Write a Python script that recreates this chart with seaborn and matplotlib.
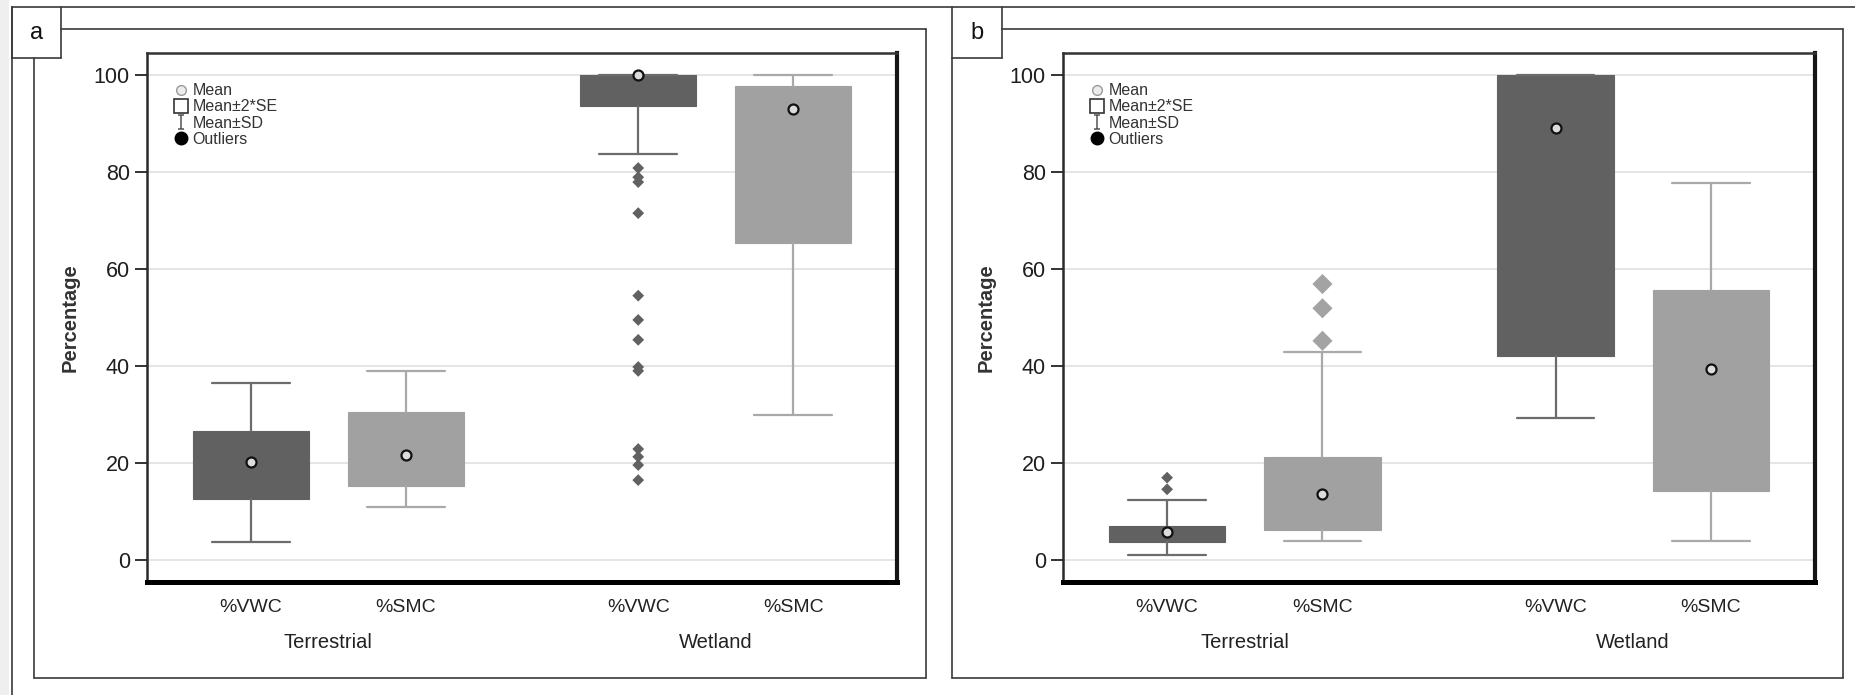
import matplotlib
matplotlib.use("Agg")
import matplotlib.pyplot as plt
import matplotlib.font_manager as fm
from matplotlib.lines import Line2D
from matplotlib.patches import Rectangle
from matplotlib.path import Path
import matplotlib.transforms as mtransforms
import seaborn as sns
import pandas as pd

# categories
groups = ["Terrestrial", "Terrestrial", "Wetland", "Wetland"]
variables = ["%VWC", "%SMC", "%VWC", "%SMC"]

# panel a: mean, mean +/- 2*SE (box), mean +/- SD (whiskers), outliers
a_mean = [20.3, 21.6, 100.0, 92.9]
a_se_lo = [12.6, 15.2, 93.5, 65.3]
a_se_hi = [26.6, 30.5, 100.0, 97.7]
a_sd_lo = [3.8, 11.0, 83.7, 30.0]
a_sd_hi = [36.6, 39.0, 100.0, 100.0]
a_out = [[], [], [80.8, 78.9, 77.9, 71.5, 54.5, 49.5, 45.4, 39.8, 39.0, 22.9, 21.3, 19.6, 16.5], []]

# panel b
b_mean = [5.8, 13.7, 89.0, 39.3]
b_se_lo = [3.8, 6.2, 42.1, 14.2]
b_se_hi = [7.0, 21.3, 100.0, 55.7]
b_sd_lo = [1.1, 3.9, 29.2, 3.9]
b_sd_hi = [12.4, 42.9, 100.0, 77.7]
b_out = [[17.0, 14.6], [56.9, 51.9, 45.2], [], []]

yticks = [0, 20, 40, 60, 80, 100]
legend_labels = ["Mean", "Mean\u00b12*SE", "Mean\u00b1SD", "Outliers"]

box_col = {"%VWC": "#616161", "%SMC": "#a1a1a1"}
whisk_col = {"%VWC": "#6c6c6c", "%SMC": "#a9a9a9"}

sns.set_theme(style="white")
plt.rcParams["font.family"] = ["Liberation Sans", "DejaVu Sans"]
names = {f.name for f in fm.fontManager.ttflist}
legend_font = ["Liberation Sans Narrow", "Liberation Sans"] if "Liberation Sans Narrow" in names else ["Liberation Sans"]

W, H = 1856, 695
fig = plt.figure(figsize=(W / 100, H / 100), dpi=100)

# positions from the group layout (half a slot gap between groups)
group_names = list(dict.fromkeys(groups))
positions = []
offset = 0.0
for g in group_names:
    n = groups.count(g)
    positions += [offset + k for k in range(n)]
    offset += n + 0.5


def fx(px):
    return px / W


def fy(py):
    return 1 - py / H


def fline(x0, y0, x1, y1, lw=1.2, col="#3a3a3a"):
    fig.add_artist(Line2D([fx(x0), fx(x1)], [fy(y0), fy(y1)], transform=fig.transFigure, lw=lw, color=col))


# frames around the panels
fig.add_artist(Rectangle((0, 0), fx(9), 1, transform=fig.transFigure, color="#efefef", lw=0))
fline(12, 7, W, 7)
fline(12, 7, 12, H)
for (lx, rx, bx0, bx1, lab) in [(34, 926, 12, 61, "a"), (952, 1843, 952, 1002, "b")]:
    fline(bx0, 7, bx0, 58)
    fline(bx1, 7, bx1, 58)
    fline(bx0, 58, bx1, 58)
    fline(lx, 58, lx, 678)
    fline(bx1, 29, rx, 29)
    fline(rx, 29, rx, 678)
    fline(lx, 678, rx, 678)
    fig.text(fx((bx0 + bx1) / 2), fy(33), lab, ha="center", va="center", fontsize=17, color="#111")

ibeam = Path([(-0.5, 1), (0.5, 1), (0, 1), (0, -1), (-0.5, -1), (0.5, -1)],
             [Path.MOVETO, Path.LINETO, Path.MOVETO, Path.LINETO, Path.MOVETO, Path.LINETO])


def draw_panel(left_px, right_px, mean, se_lo, se_hi, sd_lo, sd_hi, outliers):
    ax = fig.add_axes([fx(left_px), fy(582), fx(right_px - left_px), (582 - 53) / H])
    stats = []
    for v, m, q1, q3, lo, hi in zip(variables, mean, se_lo, se_hi, sd_lo, sd_hi):
        stats.append({"med": q1, "q1": q1, "q3": q3, "whislo": lo, "whishi": hi, "mean": m, "fliers": [], "label": v})
    for st, p in zip(stats, positions):
        v = st["label"]
        ax.bxp([st], positions=[p], widths=0.75, patch_artist=True, showfliers=False, manage_ticks=False,
               boxprops=dict(facecolor=box_col[v], edgecolor=box_col[v], lw=0.8),
               whiskerprops=dict(color=whisk_col[v], lw=1.6),
               capprops=dict(color=whisk_col[v], lw=1.6),
               medianprops=dict(lw=0), capwidths=0.5)

    rows = []
    for p, v, vals in zip(positions, variables, outliers):
        for val in vals:
            rows.append({"x": p, "y": val, "var": v})
    if rows:
        out = pd.DataFrame(rows)
        for v, sz in [("%VWC", 36), ("%SMC", 105)]:
            sub = out[out["var"] == v]
            if len(sub):
                sns.scatterplot(data=sub, x="x", y="y", marker="D", s=sz, color=box_col[v] if v == "%VWC" else "#a3a3a3",
                                edgecolor="none", ax=ax, zorder=4, legend=False)

    means = pd.DataFrame({"x": positions, "y": mean})
    sns.scatterplot(data=means, x="x", y="y", marker="o", s=52, color="#dcdcdc", edgecolor="#111111",
                    linewidth=1.6, ax=ax, zorder=5, legend=False, clip_on=False)

    ax.set_xlim(-0.67, 4.17)
    ax.set_ylim(-4.5, 104.5)
    ax.set_yticks(yticks)
    ax.set_xticks(positions)
    ax.set_xticklabels(variables, fontsize=14, color="#222")
    ax.set_xlabel("")
    ax.set_ylabel("")
    ax.tick_params(axis="x", length=0, pad=12)
    ax.tick_params(axis="y", left=True, length=8.4, width=1.4, color="#333", pad=4, labelsize=15.5, labelcolor="#1e1e1e")
    ax.yaxis.grid(True, color="#e3e3e3", lw=1.3)
    ax.xaxis.grid(False)
    ax.set_axisbelow(True)
    ax.spines["left"].set(lw=1.8, color="#2a2a2a")
    ax.spines["top"].set(lw=1.8, color="#333333")
    ax.spines["right"].set(lw=3.0, color="#151515")
    ax.spines["bottom"].set(lw=3.6, color="#000000")

    trans = mtransforms.blended_transform_factory(ax.transData, ax.transAxes)
    for g in group_names:
        ps = [p for p, gg in zip(positions, groups) if gg == g]
        ax.text(sum(ps) / len(ps), -0.115, g, transform=trans, ha="center", va="center", fontsize=14.5, color="#222")
    ax.text(-0.102, 0.5, "Percentage", transform=ax.transAxes, rotation=90, ha="center", va="center",
            fontsize=14.5, fontweight="bold", color="#333")

    handles = [
        Line2D([], [], ls="none", marker="o", ms=7, mfc="#ececec", mec="#9a9a9a", mew=1.0),
        Line2D([], [], ls="none", marker="s", ms=10.5, mfc="white", mec="#333333", mew=1.2),
        Line2D([], [], ls="none", marker=ibeam, ms=10, color="#555555", mew=1.1),
        Line2D([], [], ls="none", marker="o", ms=9, color="black"),
    ]
    leg = ax.legend(handles, legend_labels, loc="upper left", bbox_to_anchor=(0.035, 0.943), frameon=False,
                    borderpad=0, borderaxespad=0, handlelength=1.0, handletextpad=0.2, labelspacing=0.08,
                    prop=dict(family=legend_font, size=11.5))
    for t in leg.get_texts():
        t.set_color("#333")
    return ax


draw_panel(147, 897, a_mean, a_se_lo, a_se_hi, a_sd_lo, a_sd_hi, a_out)
draw_panel(1063, 1815, b_mean, b_se_lo, b_se_hi, b_sd_lo, b_sd_hi, b_out)

fig.savefig("out.png", dpi=100, facecolor="white")
plt.close(fig)
